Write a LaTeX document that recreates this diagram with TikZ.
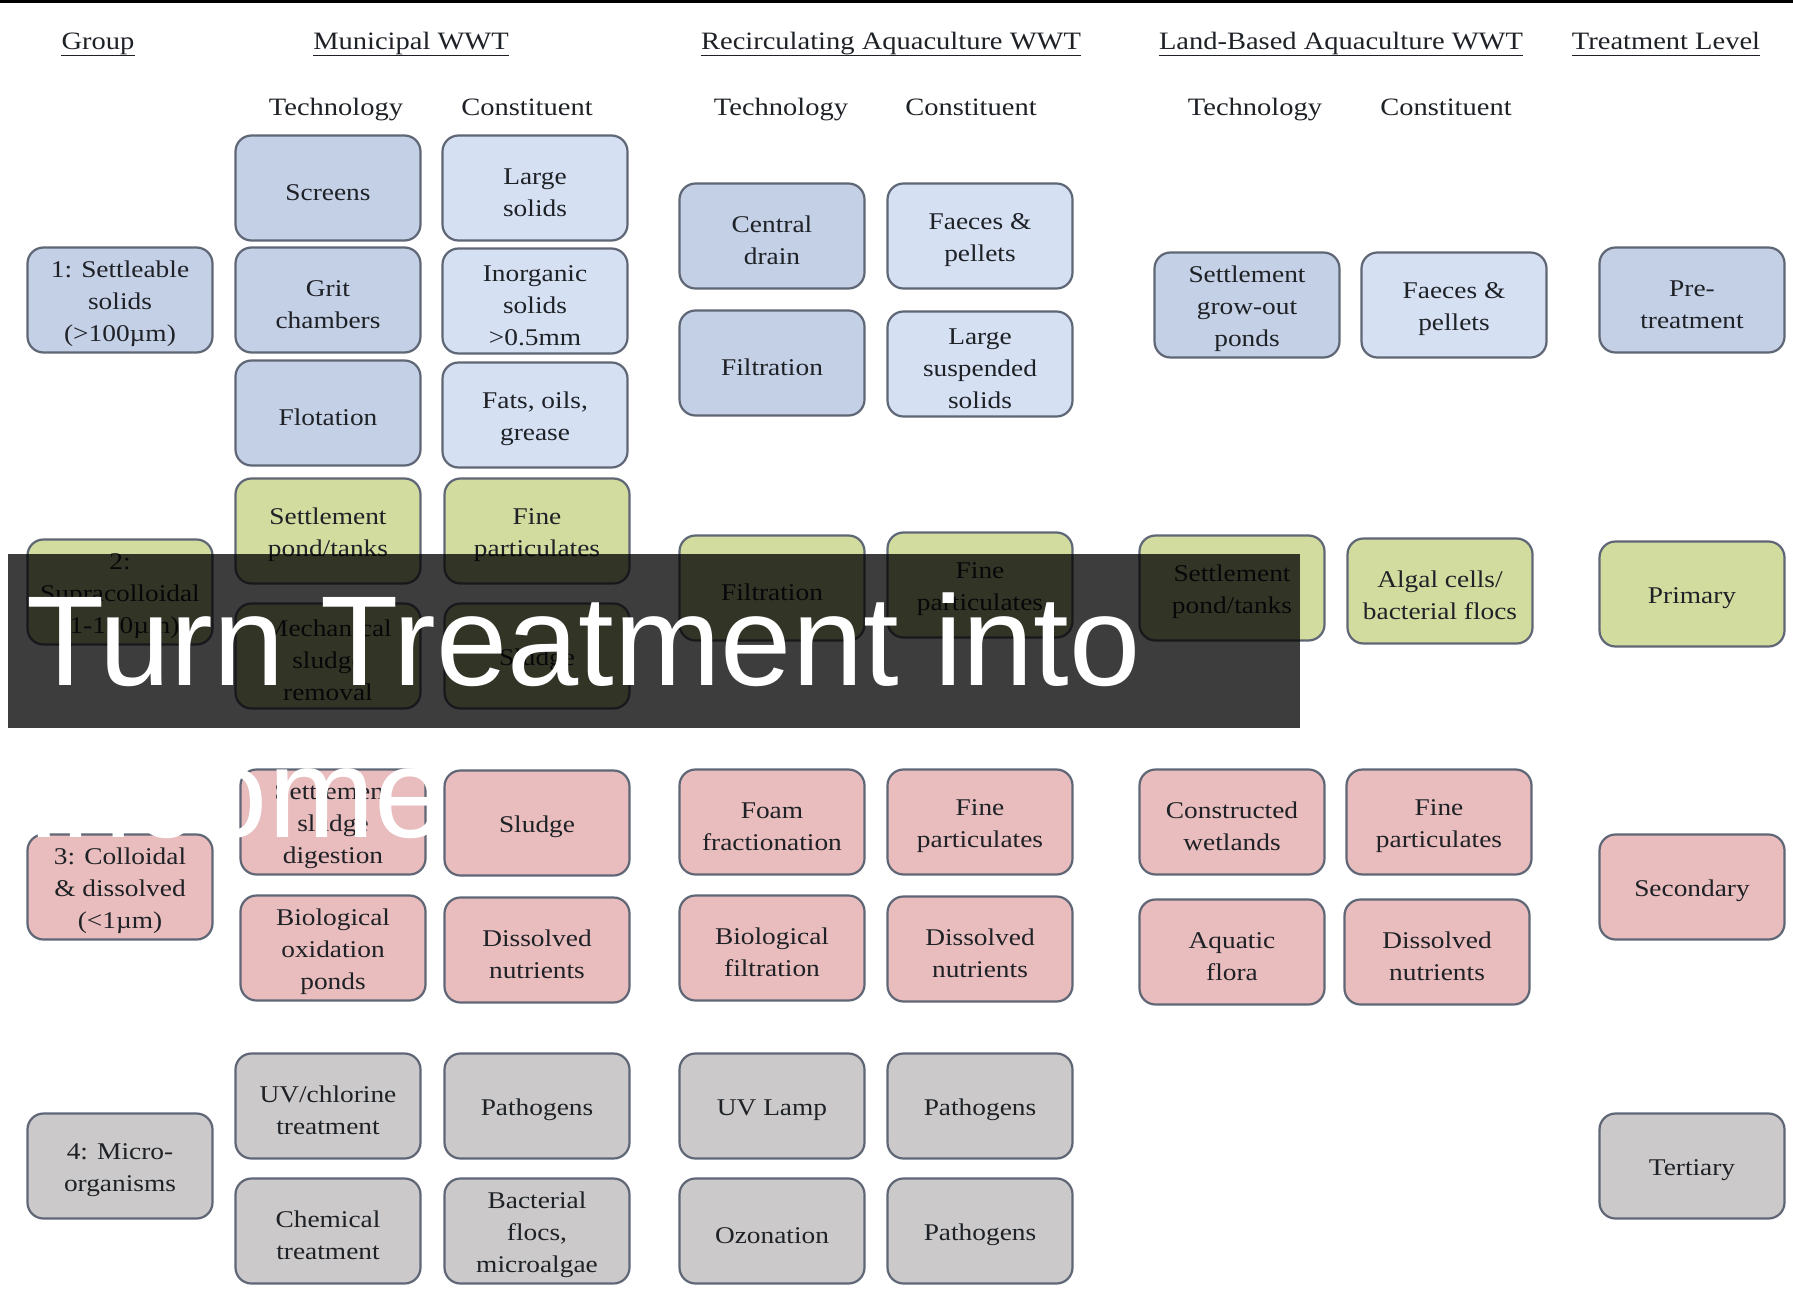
\documentclass[tikz,border=0pt]{standalone}
\usepackage{fontspec}
\setmainfont{Liberation Serif}[FakeStretch=1.14]
\newfontfamily\bannerfont{Liberation Sans}
\usetikzlibrary{backgrounds}
\definecolor{bluetech}{HTML}{C4D0E6}
\definecolor{blueconst}{HTML}{D5E0F3}
\definecolor{greenbox}{HTML}{D3DC9F}
\definecolor{pinkbox}{HTML}{E9BDBD}
\definecolor{graybox}{HTML}{CBC9C9}
\definecolor{boxedge}{HTML}{5F6675}
\definecolor{txt}{HTML}{1E2126}
\definecolor{lineA}{HTML}{555555}
\definecolor{lineB}{HTML}{9A9A9A}
\definecolor{lineC}{HTML}{7E7E7E}
\newcommand\dn{\rule{0pt}{25pt}}
\begin{document}
\begin{tikzpicture}[x=1pt,y=-1pt,
  box/.style={rectangle, rounded corners=16pt, draw=boxedge, line width=2.2pt,
    minimum width=185pt, minimum height=105pt, inner sep=0pt, align=center,
    font=\fontsize{24}{32}\selectfont, text=txt},
  bt/.style={box, fill=bluetech},
  bc/.style={box, fill=blueconst},
  gb/.style={box, fill=greenbox},
  pb/.style={box, fill=pinkbox},
  yb/.style={box, fill=graybox},
  hdr/.style={font=\fontsize{25}{30}\selectfont, anchor=base, text=txt, inner sep=0pt},
  uline/.style={draw=txt, line width=1.8pt},
  connA/.style={draw=lineA, line width=2.5pt},
  connB/.style={draw=lineB, line width=3.5pt},
  connC/.style={draw=lineC, line width=2.5pt},
  bannerbox/.style={fill=black, fill opacity=0.76, minimum width=1292pt, minimum height=174pt, inner sep=0pt},
  bannertext/.style={font=\bannerfont\fontsize{128}{150}\selectfont, text=white, anchor=base west, inner sep=0pt}
]
\useasboundingbox (0,0) rectangle (1793,1297);
\fill[white] (0,0) rectangle (1793,1297);
\fill[black] (0,0) rectangle (1793,3.5);

% headers
\node[hdr] (hgrp) at (98,49.5) {Group};
\node[hdr] (hmun) at (411,49.5) {Municipal WWT};
\node[hdr] (hras) at (891,49.5) {Recirculating Aquaculture WWT};
\node[hdr] (hlba) at (1341,49.5) {Land-Based Aquaculture WWT};
\node[hdr] (htl) at (1666,49.5) {Treatment Level};
\foreach \h in {hgrp,hmun,hras,hlba,htl}
  \draw[uline] ([yshift=-6pt]\h.base west) -- ([yshift=-6pt]\h.base east);

\node[hdr] (st1) at (336,115.5) {Technology};
\node[hdr] (sc1) at (527,115.5) {Constituent};
\node[hdr] (st2) at (781,115.5) {Technology};
\node[hdr] (sc2) at (971,115.5) {Constituent};
\node[hdr] (st3) at (1255,115.5) {Technology};
\node[hdr] (sc3) at (1446,115.5) {Constituent};

% row 1
\node[bt] (g1) at (120,300) {\dn 1: Settleable\\solids\\(>100µm)};
\node[bt] (screens) at (328,188) {\dn Screens};
\node[bt] (grit) at (328,300) {\dn Grit\\chambers};
\node[bt] (flot) at (328,413) {\dn Flotation};
\node[bc] (lsol) at (535,188) {\dn Large\\solids};
\node[bc] (inorg) at (535,301) {\dn Inorganic\\solids\\>0.5mm};
\node[bc] (fats) at (535,415) {\dn Fats, oils,\\grease};
\node[bt] (cdrain) at (772,236) {\dn Central\\drain};
\node[bt] (filtA) at (772,363) {\dn Filtration};
\node[bc] (faecA) at (980,236) {\dn Faeces \&\\pellets};
\node[bc] (lss) at (980,364) {\dn Large\\suspended\\solids};
\node[bt] (sgo) at (1247,305) {\dn Settlement\\grow-out\\ponds};
\node[bc] (faecB) at (1454,305) {\dn Faeces \&\\pellets};
\node[bt] (pre) at (1692,300) {\dn Pre-\\treatment};

% row 2
\node[gb] (g2) at (120,592) {\dn 2:\\Supracolloidal\\(1-100µm)};
\node[gb] (sptA) at (328,531) {\dn Settlement\\pond/tanks};
\node[gb] (mech) at (328,656) {\dn Mechanical\\sludge\\removal};
\node[gb] (fpA) at (537,531) {\dn Fine\\particulates};
\node[gb] (sludgeA) at (537,656) {\dn Sludge};
\node[gb] (filtB) at (772,588) {\dn Filtration};
\node[gb] (fpB) at (980,585) {\dn Fine\\particulates};
\node[gb] (sptB) at (1232,588) {\dn Settlement\\pond/tanks};
\node[gb] (algal) at (1440,591) {\dn Algal cells/\\bacterial flocs};
\node[gb] (prim) at (1692,594) {\dn Primary};

% row 3
\node[pb] (g3) at (120,887) {\dn 3: Colloidal\\\& dissolved\\(<1µm)};
\node[pb] (ssd) at (333,822) {\dn Settlement\\sludge\\digestion};
\node[pb] (bop) at (333,948) {\dn Biological\\oxidation\\ponds};
\node[pb] (sludgeB) at (537,823) {\dn Sludge};
\node[pb] (dnA) at (537,950) {\dn Dissolved\\nutrients};
\node[pb] (foam) at (772,822) {\dn Foam\\fractionation};
\node[pb] (bfilt) at (772,948) {\dn Biological\\filtration};
\node[pb] (fpC) at (980,822) {\dn Fine\\particulates};
\node[pb] (dnB) at (980,949) {\dn Dissolved\\nutrients};
\node[pb] (cw) at (1232,822) {\dn Constructed\\wetlands};
\node[pb] (aq) at (1232,952) {\dn Aquatic\\flora};
\node[pb] (fpD) at (1439,822) {\dn Fine\\particulates};
\node[pb] (dnC) at (1437,952) {\dn Dissolved\\nutrients};
\node[pb] (sec) at (1692,887) {\dn Secondary};

% row 4
\node[yb] (g4) at (120,1166) {\dn 4: Micro-\\organisms};
\node[yb] (uvc) at (328,1106) {\dn UV/chlorine\\treatment};
\node[yb] (chem) at (328,1231) {\dn Chemical\\treatment};
\node[yb] (pathA) at (537,1106) {\dn Pathogens};
\node[yb] (bact) at (537,1231) {\dn Bacterial\\flocs,\\microalgae};
\node[yb] (uvl) at (772,1106) {\dn UV Lamp};
\node[yb] (ozo) at (772,1231) {\dn Ozonation};
\node[yb] (pathB) at (980,1106) {\dn Pathogens};
\node[yb] (pathC) at (980,1231) {\dn Pathogens};
\node[yb] (tert) at (1692,1166) {\dn Tertiary};

\begin{pgfonlayer}{background}
\draw[connA] (g1.east) -- (pre.west);
\draw[connB] (g2.east) -- (prim.west);
\draw[connC] (g3.east) -- (sec.west);
\draw[connA] (g4.east) -- (tert.west);
\end{pgfonlayer}

% overlay banner
\node[bannerbox] (banner) at (654,641) {};
\node[bannertext] (bt1) at (26,685) {Turn Treatment into};
\node[bannertext] (bt2) at (26,837) {Income};
\end{tikzpicture}
\end{document}
